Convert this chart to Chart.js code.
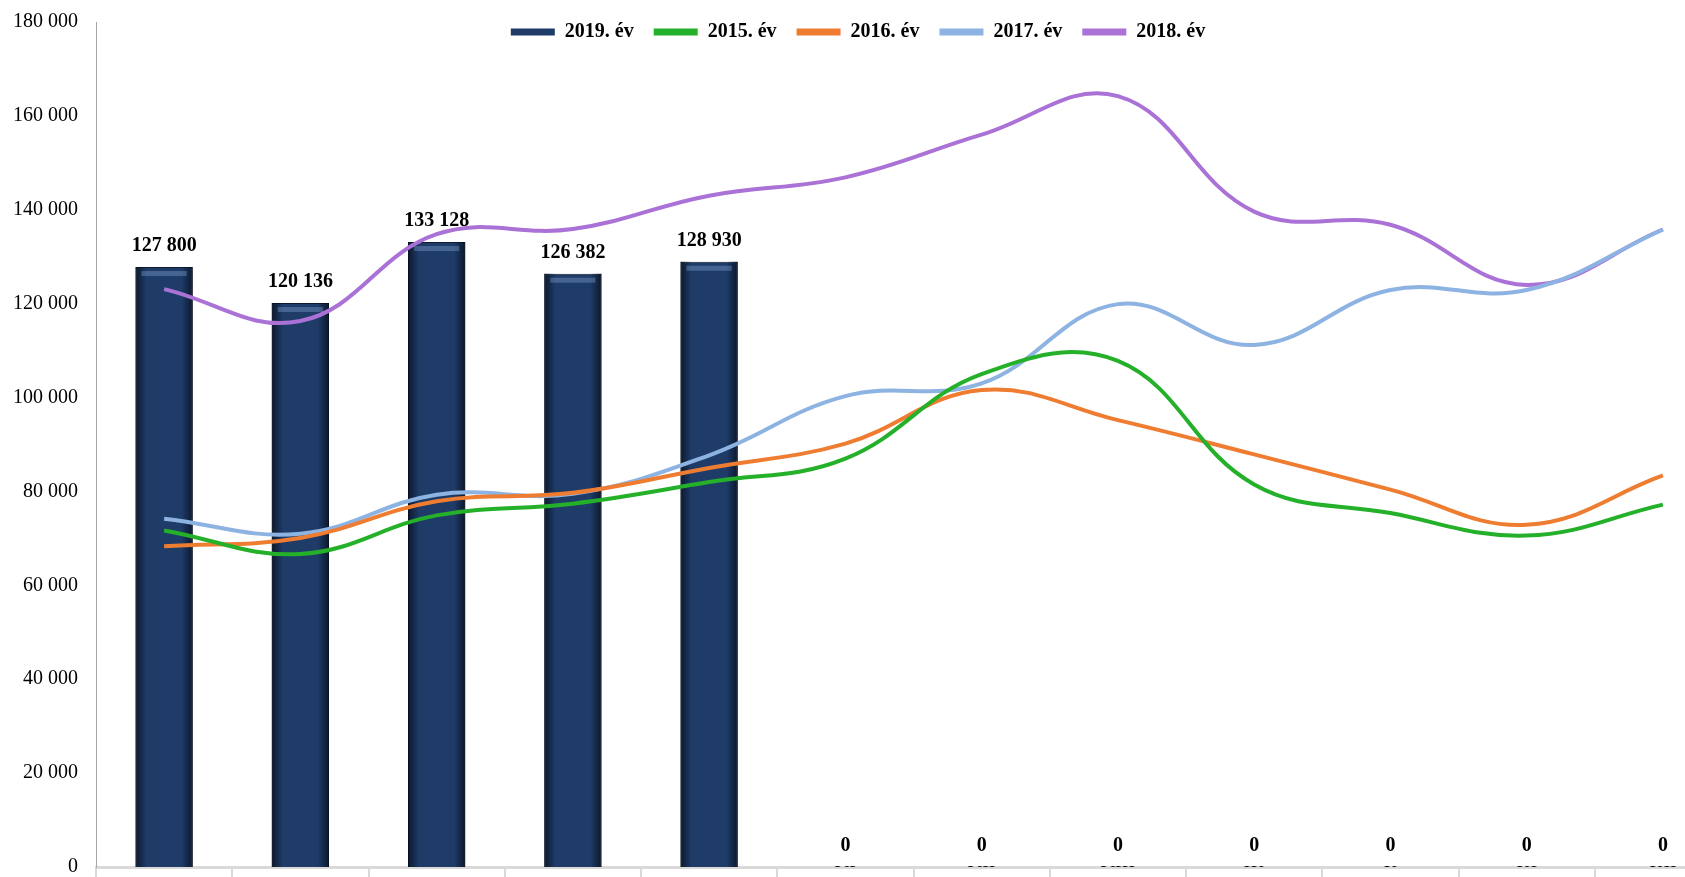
<!DOCTYPE html>
<html>
<head>
<meta charset="utf-8">
<script src="https://cdn.jsdelivr.net/npm/chart.js@4.4.1/dist/chart.umd.min.js"></script>
<style>
    html, body { margin: 0; padding: 0; background: #fff; overflow: hidden; }
    #wrap { width: 1740px; height: 905px; margin-top: -8px; }
</style>
</head>
<body>
<div id="wrap"><canvas id="chart"></canvas></div>
<script>
// Data
const months = ['I', 'II', 'III', 'IV', 'V', 'VI', 'VII', 'VIII', 'IX', 'X', 'XI', 'XII'];
const y2019 = [127800, 120136, 133128, 126382, 128930, 0, 0, 0, 0, 0, 0, 0];
const y2015 = [71700, 66700, 74900, 77400, 82000, 87000, 105000, 107800, 81500, 75400, 70600, 77200];
const y2016 = [68300, 70100, 77900, 79700, 85000, 90200, 101600, 95200, 87900, 80400, 72900, 83400];
const y2017 = [74200, 71000, 79300, 79500, 87700, 100300, 103000, 119900, 111200, 122900, 122900, 135800];
const y2018 = [123100, 116300, 134800, 135900, 143000, 146900, 156000, 164200, 139600, 136800, 124000, 135800];

const serif = '"Liberation Serif", "Times New Roman", serif';
const fmt = v => String(v).replace(/\B(?=(\d{3})+(?!\d))/g, ' ');

// shade the bars: dark edges + light band at the top
const barShade = {
    id: 'barShade',
    afterDatasetDraw(chart, args) {
        if (args.index !== 0) return;
        const ctx = chart.ctx;
        args.meta.data.forEach(el => {
            const { x, y, base, width } = el.getProps(['x', 'y', 'base', 'width'], true);
            if (base - y < 2) return;
            const l = x - width / 2;
            const g = ctx.createLinearGradient(l, 0, l + width, 0);
            g.addColorStop(0, 'rgba(5,12,25,0.75)');
            g.addColorStop(0.2, 'rgba(5,12,25,0)');
            g.addColorStop(0.8, 'rgba(5,12,25,0)');
            g.addColorStop(1, 'rgba(5,12,25,0.75)');
            ctx.save();
            ctx.fillStyle = g;
            ctx.fillRect(l, y, width, base - y);
            ctx.fillStyle = 'rgba(140,175,220,0.35)';
            ctx.fillRect(l + 6, y + 4, width - 12, 5);
            ctx.restore();
        });
    }
};

// value labels above the bars
const barLabels = {
    id: 'barLabels',
    afterDatasetsDraw(chart) {
        const ctx = chart.ctx;
        const meta = chart.getDatasetMeta(0);
        ctx.save();
        ctx.font = 'bold 20px ' + serif;
        ctx.fillStyle = '#000';
        ctx.textAlign = 'center';
        ctx.textBaseline = 'middle';
        meta.data.forEach((el, i) => {
            ctx.fillText(fmt(y2019[i]), el.x, el.y - 21);
        });
        ctx.restore();
    }
};

// legend sits over the plot in the original: reserve no room for it
const legendFloat = {
    id: 'legendFloat',
    beforeLayout(chart) {
        const l = chart.legend;
        if (l && !l._floatFit) {
            const fit = l.fit;
            l.fit = function () { fit.call(this); this._realH = this.height; this.height = 0; };
            l._floatFit = true;
        }
    },
    afterLayout(chart) {
        const l = chart.legend;
        l.top -= 20;
        l.height = l._realH;
        l.bottom = l.top + l.height;
        l.left -= 14; l.right -= 14;
    }
};

new Chart(document.getElementById('chart'), {
    type: 'bar',
    data: {
        labels: months,
        datasets: [
            {
                type: 'bar',
                label: '2019. év',
                data: y2019,
                backgroundColor: '#1f3c69',
                borderColor: '#0e1b31',
                borderWidth: 1,
                barPercentage: 0.84,
                categoryPercentage: 0.5,
                order: 1
            },
            { type: 'line', label: '2015. év', data: y2015, borderColor: '#25b02a', backgroundColor: '#25b02a', borderWidth: 4, tension: 0.4, pointRadius: 0, order: 0 },
            { type: 'line', label: '2016. év', data: y2016, borderColor: '#ef7d31', backgroundColor: '#ef7d31', borderWidth: 4, tension: 0.4, pointRadius: 0, order: 0 },
            { type: 'line', label: '2017. év', data: y2017, borderColor: '#8db3e2', backgroundColor: '#8db3e2', borderWidth: 4, tension: 0.4, pointRadius: 0, order: 0 },
            { type: 'line', label: '2018. év', data: y2018, borderColor: '#aa72d6', backgroundColor: '#aa72d6', borderWidth: 4, tension: 0.4, pointRadius: 0, order: 0 }
        ]
    },
    options: {
        responsive: true,
        maintainAspectRatio: false,
        animation: false,
        layout: { padding: { left: 13, right: 9, top: 4, bottom: 0 } },
        plugins: {
            tooltip: { enabled: false },
            legend: {
                position: 'top',
                labels: {
                    font: { family: serif, size: 20, weight: 'bold' },
                    color: '#000',
                    boxWidth: 44,
                    boxHeight: 7,
                    padding: 20,
                    generateLabels: (chart) => Chart.defaults.plugins.legend.labels.generateLabels(chart)
                        .map(it => ({ ...it, lineWidth: 0 }))
                        .sort((a, b) => a.datasetIndex - b.datasetIndex)
                }
            }
        },
        scales: {
            x: {
                offset: true,
                grid: { display: true, offset: true, drawOnChartArea: false, drawTicks: true, tickLength: 30, color: '#d9d9d9', lineWidth: 2 },
                border: { color: '#d9d9d9', width: 3 },
                ticks: { font: { family: serif, size: 20 }, color: '#000', padding: -34 }
            },
            y: {
                min: 0,
                max: 180000,
                afterFit: (scale) => { scale.width = 83; },
                ticks: {
                    stepSize: 20000,
                    font: { family: serif, size: 20 },
                    color: '#000',
                    padding: 18,
                    callback: v => fmt(v)
                },
                grid: { display: false, drawTicks: false },
                border: { color: '#a6a6a6', width: 1 }
            }
        }
    },
    plugins: [barShade, barLabels, legendFloat]
});
</script>
</body>
</html>
